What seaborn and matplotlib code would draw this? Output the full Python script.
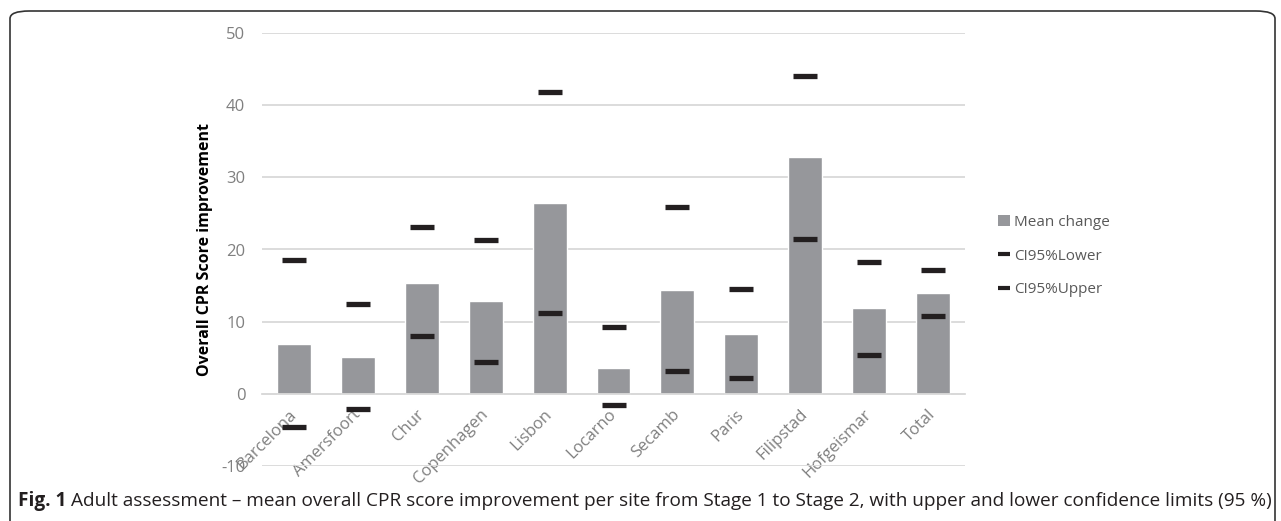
import matplotlib
matplotlib.use("Agg")
import matplotlib.pyplot as plt
import matplotlib.transforms as mtransforms
import seaborn as sns
import pandas as pd
from matplotlib.patches import FancyBboxPatch
from matplotlib.lines import Line2D
from matplotlib.patches import Patch

sites = ["Barcelona", "Amersfoort", "Chur", "Copenhagen", "Lisbon", "Locarno",
         "Secamb", "Paris", "Filipstad", "Hofgeismar", "Total"]
mean_change = [6.9, 5.1, 15.4, 12.8, 26.4, 3.6, 14.4, 8.3, 32.8, 11.9, 14.0]
ci_lower = [-4.6, -2.1, 8.0, 4.4, 11.2, -1.6, 3.1, 2.2, 21.5, 5.4, 10.8]
ci_upper = [18.6, 12.5, 23.1, 21.3, 41.8, 9.2, 25.9, 14.5, 44.1, 18.3, 17.2]
y_ticks = [-10, 0, 10, 20, 30, 40, 50]

df = pd.DataFrame({"site": sites, "mean": mean_change, "lower": ci_lower, "upper": ci_upper})

sns.set_style("white")
plt.rcParams["font.family"] = ["Open Sans", "DejaVu Sans"]
plt.rcParams["axes.unicode_minus"] = False

BAR = "#96979b"
DASH = "#231f20"
TICK = "#808080"
GRID = "#d9d9d9"

fig = plt.figure(figsize=(12.81, 5.21), dpi=100)
ax = fig.add_axes([262 / 1281, 1 - 466 / 521, 703 / 1281, 433 / 521])

sns.barplot(data=df, x="site", y="mean", color=BAR, width=0.53, saturation=1,
            ax=ax, label="Mean change", zorder=2)
sns.scatterplot(data=df, x="site", y="lower", marker="_", s=290, linewidth=3.8,
                color=DASH, ax=ax, zorder=3, label="CI95%Lower")
sns.scatterplot(data=df, x="site", y="upper", marker="_", s=290, linewidth=3.8,
                color=DASH, ax=ax, zorder=3, label="CI95%Upper")

ax.set_xlim(-0.5, len(sites) - 0.5)
ax.set_ylim(-10, 50)
ax.set_yticks(y_ticks)
ax.set_yticklabels([str(v) for v in y_ticks])
ax.yaxis.grid(True, color=GRID, linewidth=1.3, zorder=0)
ax.set_axisbelow(True)
for s in ["top", "right", "left"]:
    ax.spines[s].set_visible(False)
ax.spines["bottom"].set_position(("data", 0))
ax.spines["bottom"].set_color(GRID)
ax.spines["bottom"].set_linewidth(1.3)

ax.tick_params(axis="y", length=0, pad=12, labelsize=12, labelcolor=TICK)
ax.tick_params(axis="x", length=0, pad=9, labelsize=12, labelcolor=TICK)
offset = mtransforms.ScaledTranslation(6 / 100, 0, fig.dpi_scale_trans)
for lab in ax.get_xticklabels():
    lab.set_rotation(45)
    lab.set_ha("right")
    lab.set_va("top")
    lab.set_transform(lab.get_transform() + offset)

ax.set_xlabel("")
ax.set_ylabel("Overall CPR Score improvement", fontsize=11.5, fontweight="bold", color="black")
ax.yaxis.set_label_coords(-0.0697, 0.5)

handles = [
    Patch(facecolor=BAR, edgecolor="none"),
    Line2D([], [], color=DASH, linewidth=3, solid_capstyle="butt"),
    Line2D([], [], color=DASH, linewidth=3, solid_capstyle="butt"),
]
ax.legend(handles, ["Mean change", "CI95%Lower", "CI95%Upper"],
          loc="upper left", bbox_to_anchor=(990 / 1281, 1 - 207 / 521),
          bbox_transform=fig.transFigure, frameon=False, fontsize=11,
          labelcolor="#595959", handlelength=0.8, handleheight=0.8,
          handletextpad=0.3, labelspacing=1.22, borderpad=0)

# border frame
frame = FancyBboxPatch((10 / 1281, -0.1), 1265 / 1281, 1 - 11 / 521 + 0.1,
                       boxstyle="round,pad=0,rounding_size=0.015",
                       transform=fig.transFigure, fill=False,
                       edgecolor="#333333", linewidth=1.2, mutation_aspect=521 / 1281 * 2.4)
fig.patches.append(frame)

# caption
fig.canvas.draw()
r = fig.canvas.get_renderer()
t1 = fig.text(18 / 1281, 1 - 501 / 521, "Fig. 1", fontsize=13.7, fontweight="bold",
              ha="left", va="center", color="#231f20")
bb = t1.get_window_extent(renderer=r)
fig.text((bb.x1 + 5) / 1281, 1 - 501 / 521,
         "Adult assessment – mean overall CPR score improvement per site from Stage 1 to Stage 2, "
         "with upper and lower confidence limits (95 %)",
         fontsize=13.7, ha="left", va="center", color="#231f20")

fig.savefig("out.png", dpi=100)
